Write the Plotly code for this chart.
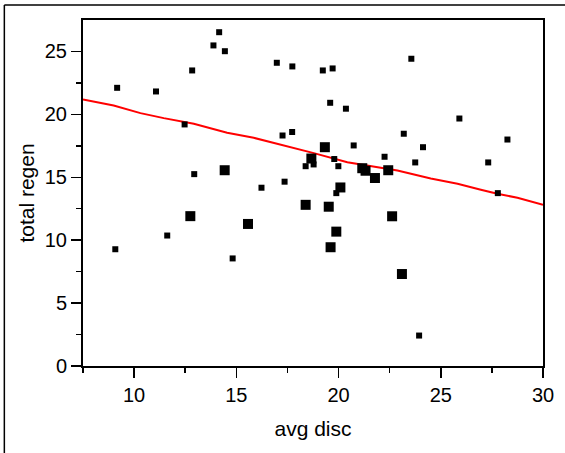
import plotly.graph_objects as go

# small markers (avg disc, total regen)
small_x = [9.17, 11.07, 12.84, 13.88, 14.16, 14.44, 12.47, 12.94, 16.23, 16.98,
           17.74, 17.26, 17.73, 17.36, 18.39, 18.78, 19.23, 19.71, 23.56, 19.59,
           20.36, 25.91, 23.19, 28.26, 20.74, 24.13, 22.25, 23.75, 27.32, 19.79,
           19.99, 19.89, 9.08, 11.62, 14.82, 23.94, 27.79]
small_y = [22.11, 21.82, 23.49, 25.48, 26.53, 25.02, 19.20, 15.25, 14.17, 24.10,
           23.81, 18.32, 18.60, 14.65, 15.88, 16.02, 23.49, 23.65, 24.42, 20.92,
           20.45, 19.67, 18.46, 18.00, 17.53, 17.39, 16.63, 16.18, 16.18, 16.45,
           15.88, 13.74, 9.28, 10.37, 8.55, 2.42, 13.74]

# large markers
large_x = [14.43, 19.33, 18.67, 21.16, 21.32, 21.78, 22.43, 20.09, 18.39, 19.52,
           22.62, 19.89, 19.61, 23.10, 12.75, 15.57]
large_y = [15.56, 17.39, 16.49, 15.72, 15.52, 14.94, 15.56, 14.19, 12.81, 12.66,
           11.90, 10.68, 9.44, 7.31, 11.91, 11.29]

# fitted curve
fit_x = [7.5, 9.0, 10.31, 11.45, 12.92, 14.55, 15.85, 17.16, 18.79, 20.43,
         22.06, 22.88, 24.51, 25.82, 26.96, 27.77, 28.75, 30.0]
fit_y = [21.18, 20.71, 20.10, 19.70, 19.25, 18.54, 18.14, 17.61, 16.92, 16.20,
         15.80, 15.54, 14.90, 14.48, 14.01, 13.69, 13.37, 12.81]

x_ticks = [10, 15, 20, 25, 30]
y_ticks = [0, 5, 10, 15, 20, 25]

fig = go.Figure()
fig.add_trace(go.Scatter(x=fit_x, y=fit_y, mode="lines",
                         line=dict(color="#ff0000", width=2), hoverinfo="skip"))
fig.add_trace(go.Scatter(x=small_x, y=small_y, mode="markers",
                         marker=dict(symbol="square", size=6, color="black",
                                     line=dict(width=0))))
fig.add_trace(go.Scatter(x=large_x, y=large_y, mode="markers",
                         marker=dict(symbol="square", size=10, color="black",
                                     line=dict(width=0))))

axis_common = dict(
    showgrid=False, zeroline=False, showline=True, linecolor="black",
    linewidth=2, mirror=True, ticks="outside", ticklen=10, tickwidth=1.5,
    tickcolor="black",
    tickfont=dict(family="Liberation Sans, Arial, sans-serif", size=20, color="black"),
    minor=dict(ticks="outside", ticklen=5, tickwidth=1.5, tickcolor="black"),
)

fig.update_layout(
    width=565, height=453,
    margin=dict(l=83, r=22, t=20, b=87),
    paper_bgcolor="white", plot_bgcolor="white",
    showlegend=False,
    font=dict(family="Liberation Sans, Arial, sans-serif", color="black"),
    xaxis=dict(range=[7.5, 30], tickvals=x_ticks,
               minor_tickvals=[7.5, 12.5, 17.5, 22.5, 27.5],
               title=dict(text="avg disc", font=dict(size=21), standoff=16),
               **axis_common),
    yaxis=dict(range=[0, 27.5], tickvals=y_ticks,
               minor_tickvals=[2.5, 7.5, 12.5, 17.5, 22.5],
               title=dict(text="total regen", font=dict(size=21), standoff=4),
               **axis_common),
    shapes=[
        dict(type="line", xref="paper", yref="paper", x0=-0.171, x1=1.05,
             y0=1.0434, y1=1.0434, line=dict(color="black", width=1.5)),
        dict(type="line", xref="paper", yref="paper", x0=-0.171, x1=-0.171,
             y0=1.0434, y1=-0.26, line=dict(color="black", width=1.5)),
    ],
)

fig.write_html(
    "out.html",
    config={"displayModeBar": False, "staticPlot": True},
    post_script="document.body.style.margin='0';document.body.style.overflow='hidden';",
)
